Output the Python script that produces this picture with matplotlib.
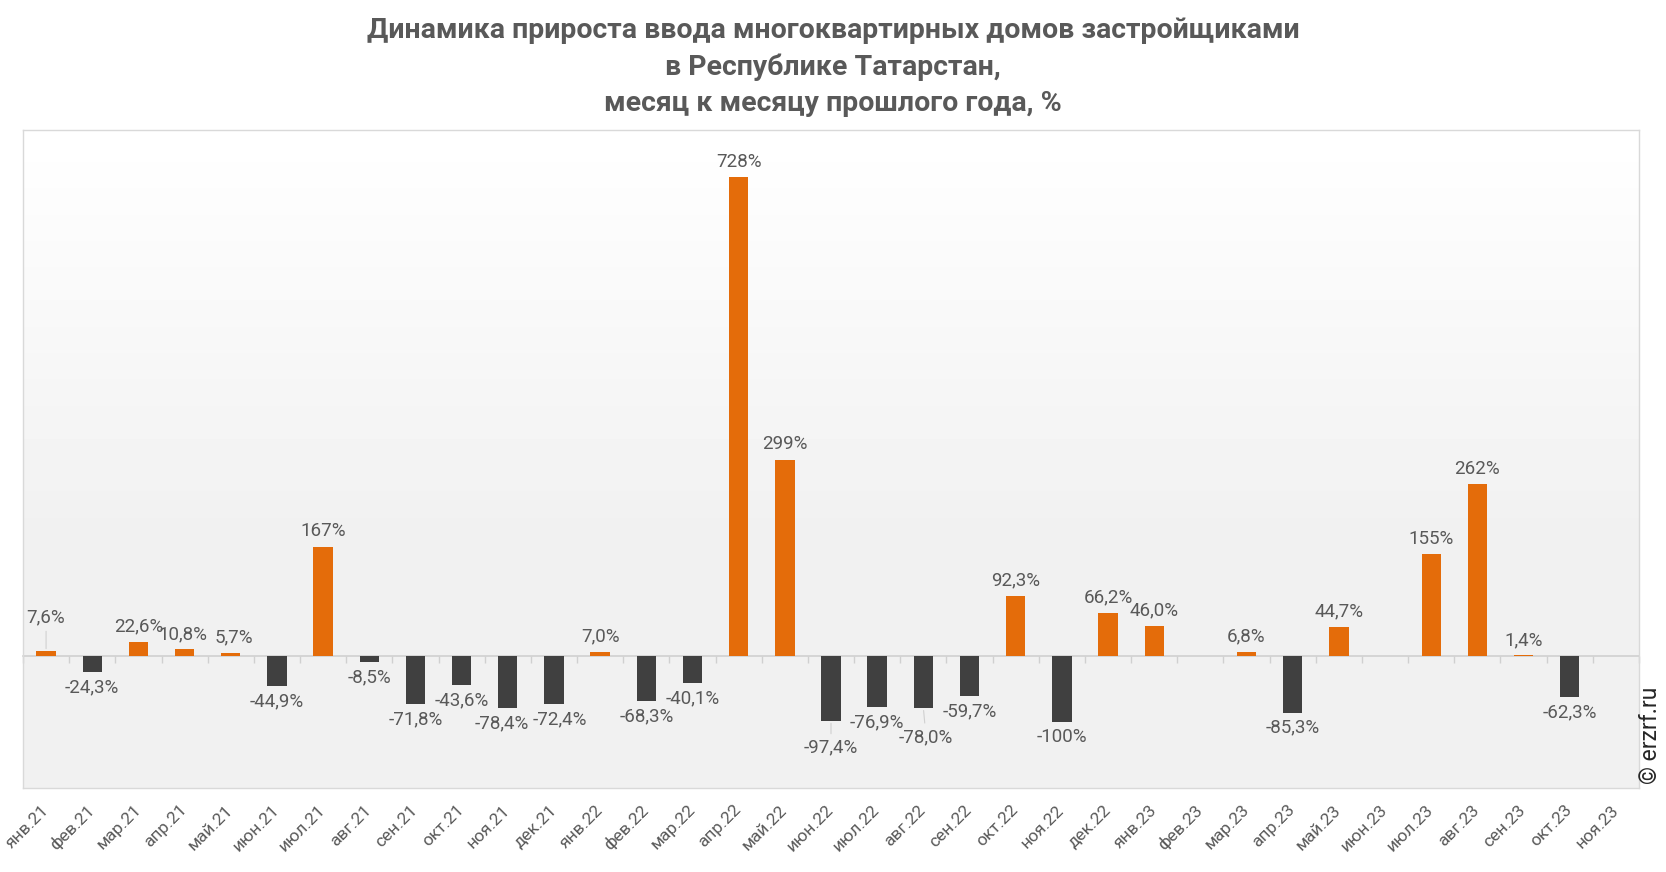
import numpy as np
import matplotlib as mpl
mpl.use('Agg')
import matplotlib.pyplot as plt

plt.rcParams['font.family'] = ['Roboto', 'DejaVu Sans']

months = ['янв.21', 'фев.21', 'мар.21', 'апр.21', 'май.21', 'июн.21', 'июл.21', 'авг.21',
          'сен.21', 'окт.21', 'ноя.21', 'дек.21', 'янв.22', 'фев.22', 'мар.22', 'апр.22',
          'май.22', 'июн.22', 'июл.22', 'авг.22', 'сен.22', 'окт.22', 'ноя.22', 'дек.22',
          'янв.23', 'фев.23', 'мар.23', 'апр.23', 'май.23', 'июн.23', 'июл.23', 'авг.23',
          'сен.23', 'окт.23', 'ноя.23']
growth = [7.6, -24.3, 22.6, 10.8, 5.7, -44.9, 167, -8.5,
          -71.8, -43.6, -78.4, -72.4, 7.0, -68.3, -40.1, 728,
          299, -97.4, -76.9, -78.0, -59.7, 92.3, -100, 66.2,
          46.0, np.nan, 6.8, -85.3, 44.7, np.nan, 155, 262,
          1.4, -62.3, np.nan]

title = ('Динамика прироста ввода многоквартирных домов застройщиками\n'
         'в Республике Татарстан,\nмесяц к месяцу прошлого года, %')

ORANGE = '#E46C0A'
DARK = '#404040'
TXT = '#595959'
YMIN, YMAX = -200, 800

# extra label nudges (points) where labels were moved to avoid overlap
nudge = {0: (0, 13.5), 3: (-1, 0), 4: (2.5, 0), 10: (-4.5, 0), 11: (4.5, 0),
         17: (0, -8.5), 19: (2, -10)}

def fmt(v):
    if abs(v) >= 100:
        return f'{v:.0f}%'
    return f'{v:.1f}'.replace('.', ',') + '%'

fig = plt.figure(figsize=(16.66, 8.72), dpi=100)
ax = fig.add_axes([0.0138, 0.0963, 0.9700, 0.7547])

x = np.arange(len(months))
vals = np.array(growth, dtype=float)

# background gradient: white at top, light grey below
grad = np.concatenate([np.linspace(1.0, 0.945, 60), np.full(40, 0.945)])[:, None]
ax.imshow(grad, extent=(0, 1, 0, 1), transform=ax.transAxes, cmap='gray',
          vmin=0, vmax=1, aspect='auto', origin='upper', zorder=0)

colors = [ORANGE if v >= 0 else DARK for v in np.nan_to_num(vals)]
ax.bar(x, np.nan_to_num(vals), width=0.42, color=colors, zorder=3)

for i, v in enumerate(vals):
    if np.isnan(v):
        continue
    dx, dy = nudge.get(i, (0, 0))
    base = 11 if v >= 0 else -11
    ax.annotate(fmt(v), (i, v), xytext=(dx, base + dy), textcoords='offset points',
                ha='center', va='center', fontsize=13.5, color=TXT, zorder=4)
    if dy != 0:
        sgn = 1 if v >= 0 else -1
        ax.annotate('', (i, v), xytext=(dx * 0.6, sgn * (abs(base + dy) - 8)),
                    textcoords='offset points',
                    arrowprops=dict(arrowstyle='-', color='#d0d0d0', lw=0.8), zorder=2)

ax.set_xlim(-0.5, len(months) - 0.5)
ax.set_ylim(YMIN, YMAX)
ax.set_yticks([])
ax.set_xticks(x)
ax.set_xticklabels(months, rotation=45, ha='right', va='center',
                   rotation_mode='anchor', fontsize=12.5, color=TXT)
ax.tick_params(axis='x', length=0, pad=14)
for s in ax.spines.values():
    s.set_color('#d9d9d9')
    s.set_linewidth(1)

# zero line with category boundary ticks
zax = ax.secondary_xaxis((0 - YMIN) / (YMAX - YMIN))
zax.set_xticks(np.arange(len(months) + 1) - 0.5)
zax.set_xticklabels([])
zax.tick_params(axis='x', direction='out', length=5, color='#d0d0d0', width=1)
zax.spines['bottom'].set_color('#d0d0d0')
zax.spines['bottom'].set_linewidth(1.2)

fig.suptitle(title, y=0.98, fontsize=20.5, fontweight='bold', color=TXT, linespacing=1.42)
fig.text(0.9905, 0.157, '© erzrf.ru', rotation=90, ha='center', va='center',
         fontsize=16.5, color='#262626')

fig.savefig('out.png', dpi=100)
